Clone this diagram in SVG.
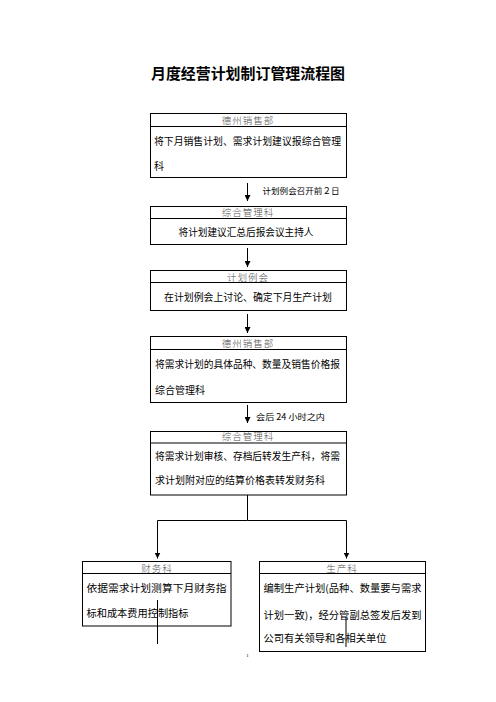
<svg xmlns="http://www.w3.org/2000/svg" width="496" height="702" viewBox="0 0 496 702">
<style>
.box{fill:#fff;stroke:#000;stroke-width:1}
.div{stroke:#000;stroke-width:1}
.hd{font-family:"Noto Sans CJK SC","Liberation Serif",serif;font-size:9.5px;font-weight:300;fill:#505050;text-anchor:middle;letter-spacing:1px}
.bd{font-family:"Noto Sans CJK SC","Liberation Sans",sans-serif;font-size:10px;fill:#000}
.c{text-anchor:middle}
.lb{font-family:"Noto Sans CJK SC","Liberation Sans",sans-serif;font-size:8.5px;fill:#000}
.ttl{font-family:"Noto Sans CJK SC","Liberation Sans",sans-serif;font-size:15px;font-weight:bold;fill:#000;text-anchor:middle}
.ln{fill:none;stroke:#000;stroke-width:1}
</style>
<defs>
<marker id="ah" markerUnits="userSpaceOnUse" markerWidth="6" markerHeight="6" refX="6" refY="3" orient="auto">
<path d="M0,0 L6,3 L0,6 z" fill="#000"/>
</marker>
</defs>
<rect width="496" height="702" fill="#fff"/>
<text class="ttl" x="248" y="79" textLength="194" lengthAdjust="spacingAndGlyphs">月度经营计划制订管理流程图</text>

<g id="node1">
<rect class="box" x="150.5" y="113.5" width="196" height="64"/>
<line class="div" x1="150.5" y1="126.5" x2="346.5" y2="126.5"/>
<text class="hd" x="248" y="123.5">德州销售部</text>
<text class="bd" x="154" y="144.5" textLength="187" lengthAdjust="spacingAndGlyphs">将下月销售计划、需求计划建议报综合管理</text>
<text class="bd" x="154" y="169.5">科</text>
</g>

<g id="node2">
<rect class="box" x="150.5" y="206.5" width="196" height="38"/>
<line class="div" x1="150.5" y1="218.5" x2="346.5" y2="218.5"/>
<text class="hd" x="248" y="215.5">综合管理科</text>
<text class="bd c" x="246" y="236" textLength="135" lengthAdjust="spacingAndGlyphs">将计划建议汇总后报会议主持人</text>
</g>

<g id="node3">
<rect class="box" x="150.5" y="270.5" width="196" height="40"/>
<line class="div" x1="150.5" y1="282.5" x2="346.5" y2="282.5"/>
<text class="hd" x="248" y="281">计划例会</text>
<text class="bd c" x="248" y="301" textLength="168" lengthAdjust="spacingAndGlyphs">在计划例会上讨论、确定下月生产计划</text>
</g>

<g id="node4">
<rect class="box" x="150.5" y="336.5" width="196" height="66"/>
<line class="div" x1="150.5" y1="349.5" x2="346.5" y2="349.5"/>
<text class="hd" x="248" y="347">德州销售部</text>
<text class="bd" x="155" y="368" textLength="185" lengthAdjust="spacingAndGlyphs">将需求计划的具体品种、数量及销售价格报</text>
<text class="bd" x="155" y="393.5">综合管理科</text>
</g>

<g id="node5">
<rect class="box" x="150.5" y="431.5" width="196" height="63.5"/>
<line class="div" x1="150.5" y1="443" x2="346.5" y2="443"/>
<text class="hd" x="248" y="440">综合管理科</text>
<text class="bd" x="155" y="459.5" textLength="185" lengthAdjust="spacingAndGlyphs">将需求计划审核、存档后转发生产科，将需</text>
<text class="bd" x="155" y="484" textLength="170" lengthAdjust="spacingAndGlyphs">求计划附对应的结算价格表转发财务科</text>
</g>

<g id="node6">
<rect class="box" x="82.5" y="561.5" width="148.5" height="64.5"/>
<line class="div" x1="82.5" y1="573.5" x2="231" y2="573.5"/>
<text class="hd" x="157" y="572">财务科</text>
<text class="bd" x="86.5" y="592" textLength="140" lengthAdjust="spacingAndGlyphs">依据需求计划测算下月财务指</text>
<text class="bd" x="86.5" y="616.5" textLength="102" lengthAdjust="spacingAndGlyphs">标和成本费用控制指标</text>
</g>

<g id="node7">
<rect class="box" x="259.5" y="561.5" width="166" height="90"/>
<line class="div" x1="259.5" y1="573.5" x2="425.5" y2="573.5"/>
<text class="hd" x="342" y="572">生产科</text>
<text class="bd" x="263.5" y="592" textLength="158" lengthAdjust="spacingAndGlyphs">编制生产计划(品种、数量要与需求</text>
<text class="bd" x="263.5" y="618.5" textLength="158" lengthAdjust="spacingAndGlyphs">计划一致)，经分管副总签发后发到</text>
<text class="bd" x="263.5" y="642" textLength="123" lengthAdjust="spacingAndGlyphs">公司有关领导和各相关单位</text>
</g>

<g id="connectors">
<line class="ln" x1="247.5" y1="183" x2="247.5" y2="201" marker-end="url(#ah)"/>
<line class="ln" x1="247.5" y1="248" x2="247.5" y2="267" marker-end="url(#ah)"/>
<line class="ln" x1="247.5" y1="314" x2="247.5" y2="333" marker-end="url(#ah)"/>
<line class="ln" x1="247.5" y1="405" x2="247.5" y2="423" marker-end="url(#ah)"/>
<polyline class="ln" points="247.5,495 247.5,520.5 157.5,520.5 157.5,558.5" marker-end="url(#ah)"/>
<polyline class="ln" points="247.5,520.5 346.5,520.5 346.5,558.5" marker-end="url(#ah)"/>
<line class="ln" x1="157.5" y1="600" x2="157.5" y2="644"/>
<line class="ln" x1="346" y1="617" x2="346" y2="647"/>
<text class="lb" x="262.5" y="194" textLength="77" lengthAdjust="spacingAndGlyphs">计划例会召开前２日</text>
<text class="lb" x="256" y="420" textLength="69" lengthAdjust="spacingAndGlyphs">会后 24 小时之内</text>
</g>
<text x="247.5" y="657" font-family="Liberation Serif, serif" font-size="5" text-anchor="middle" fill="#000">1</text>
</svg>
